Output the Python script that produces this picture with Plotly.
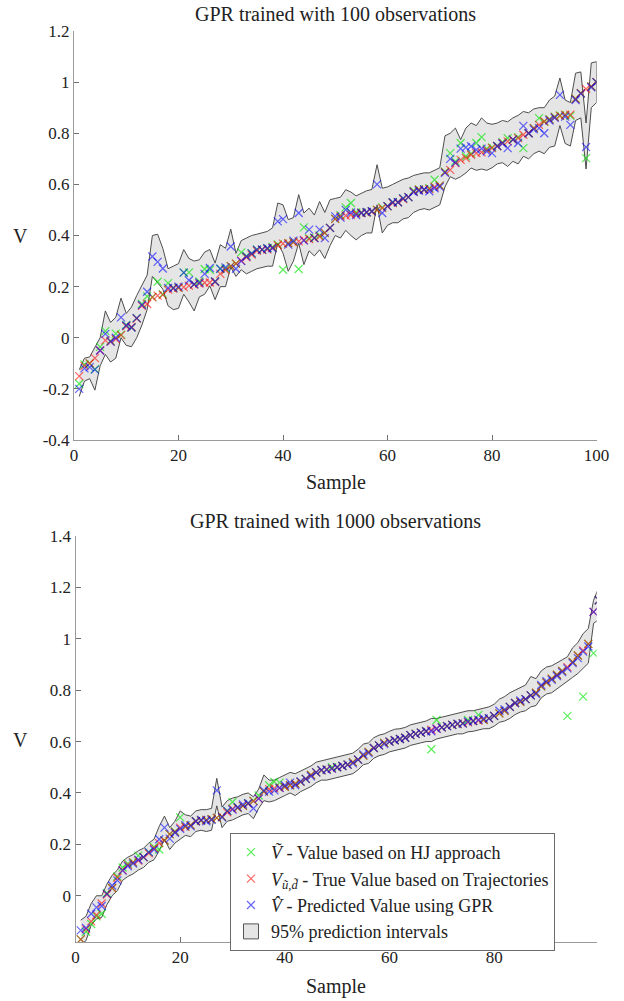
import plotly.graph_objects as go

W, H = 624, 1001

# ---------------- data: top panel (100 training observations) ----------------
samples_top = list(range(1, 101))
true_top = [-0.15, -0.11, -0.10, -0.08, -0.05, -0.01, -0.015, -0.005, 0.01, 0.045,
            0.042, 0.075, 0.125, 0.132, 0.158, 0.165, 0.168, 0.188, 0.192, 0.195,
            0.198, 0.204, 0.208, 0.212, 0.215, 0.216, 0.218, 0.25, 0.265, 0.28,
            0.29, 0.302, 0.315, 0.325, 0.34, 0.344, 0.346, 0.352, 0.362, 0.368,
            0.37, 0.373, 0.377, 0.383, 0.386, 0.39, 0.396, 0.41, 0.43, 0.465,
            0.475, 0.478, 0.481, 0.485, 0.488, 0.49, 0.494, 0.5, 0.507, 0.514,
            0.527, 0.53, 0.542, 0.55, 0.572, 0.579, 0.579, 0.582, 0.59, 0.595,
            0.648, 0.657, 0.683, 0.696, 0.703, 0.716, 0.722, 0.725, 0.735, 0.742,
            0.749, 0.762, 0.768, 0.775, 0.781, 0.794, 0.80, 0.82, 0.833, 0.846,
            0.853, 0.863, 0.868, 0.872, 0.873, 0.934, 0.957, 0.973, 0.983, 1.0]
pred_top = [-0.2, -0.12, -0.115, -0.125, -0.05, 0.015, -0.015, 0.0, 0.08, 0.048,
            0.04, 0.077, 0.128, 0.18, 0.318, 0.297, 0.271, 0.195, 0.195, 0.2,
            0.255, 0.225, 0.21, 0.215, 0.25, 0.273, 0.22, 0.27, 0.275, 0.357,
            0.27, 0.30, 0.318, 0.33, 0.345, 0.345, 0.35, 0.35, 0.455, 0.464,
            0.364, 0.38, 0.488, 0.38, 0.423, 0.39, 0.423, 0.39, 0.43, 0.475,
            0.47, 0.50, 0.49, 0.48, 0.488, 0.492, 0.495, 0.60, 0.488, 0.515,
            0.53, 0.53, 0.545, 0.55, 0.57, 0.575, 0.58, 0.573, 0.585, 0.59,
            0.645, 0.70, 0.685, 0.74, 0.745, 0.749, 0.735, 0.74, 0.729, 0.722,
            0.75, 0.76, 0.742, 0.775, 0.762, 0.829, 0.80, 0.815, 0.82, 0.80,
            0.85, 0.86, 0.95, 0.865, 0.833, 0.93, 0.955, 0.746, 0.98, 1.0]
hj_top = [-0.18, -0.104, -0.10, -0.123, -0.036, 0.026, -0.012, 0.016, 0.012, 0.05,
          0.04, 0.077, 0.132, 0.162, 0.16, 0.219, 0.17, 0.214, 0.195, 0.196,
          0.255, 0.256, 0.21, 0.22, 0.269, 0.266, 0.22, 0.27, 0.27, 0.28,
          0.29, 0.334, 0.32, 0.33, 0.345, 0.345, 0.35, 0.355, 0.365, 0.266,
          0.37, 0.375, 0.269, 0.432, 0.39, 0.392, 0.40, 0.41, 0.43, 0.465,
          0.48, 0.51, 0.527, 0.49, 0.49, 0.49, 0.495, 0.50, 0.51, 0.515,
          0.53, 0.53, 0.545, 0.55, 0.575, 0.58, 0.58, 0.585, 0.618, 0.595,
          0.65, 0.722, 0.69, 0.762, 0.71, 0.72, 0.762, 0.785, 0.74, 0.745,
          0.75, 0.765, 0.781, 0.775, 0.785, 0.742, 0.80, 0.82, 0.859, 0.846,
          0.855, 0.865, 0.87, 0.872, 0.868, 0.935, 0.957, 0.703, 0.983, 1.0]
upper_top = [-0.125, -0.08, -0.075, -0.04, 0.0, 0.105, 0.06, 0.08, 0.155, 0.095,
             0.12, 0.165, 0.205, 0.245, 0.40, 0.405, 0.35, 0.27, 0.28, 0.29,
             0.345, 0.31, 0.30, 0.305, 0.335, 0.345, 0.292, 0.364, 0.35, 0.425,
             0.33, 0.38, 0.39, 0.40, 0.405, 0.41, 0.416, 0.43, 0.527, 0.52,
             0.462, 0.47, 0.56, 0.488, 0.507, 0.48, 0.533, 0.49, 0.54, 0.545,
             0.55, 0.579, 0.57, 0.555, 0.565, 0.575, 0.58, 0.677, 0.585, 0.59,
             0.60, 0.61, 0.62, 0.625, 0.635, 0.64, 0.645, 0.645, 0.655, 0.665,
             0.79, 0.80, 0.82, 0.775, 0.82, 0.84, 0.83, 0.86, 0.84, 0.835,
             0.84, 0.85, 0.845, 0.86, 0.87, 0.885, 0.88, 0.895, 0.90, 0.90,
             0.93, 0.945, 1.016, 0.93, 0.92, 1.035, 1.04, 0.84, 1.075, 1.08]
lower_top = [-0.23, -0.17, -0.16, -0.205, -0.11, -0.065, -0.095, -0.08, 0.0, -0.03,
             -0.035, 0.0, 0.05, 0.11, 0.24, 0.215, 0.19, 0.125, 0.11, 0.115,
             0.17, 0.14, 0.105, 0.16, 0.17, 0.203, 0.149, 0.20, 0.20, 0.276,
             0.24, 0.266, 0.25, 0.26, 0.27, 0.275, 0.28, 0.28, 0.37, 0.331,
             0.26, 0.30, 0.37, 0.286, 0.34, 0.32, 0.344, 0.31, 0.36, 0.40,
             0.39, 0.42, 0.40, 0.383, 0.40, 0.41, 0.41, 0.52, 0.41, 0.44,
             0.45, 0.45, 0.465, 0.47, 0.49, 0.50, 0.505, 0.50, 0.51, 0.52,
             0.59, 0.63, 0.62, 0.63, 0.645, 0.664, 0.655, 0.66, 0.655, 0.665,
             0.68, 0.685, 0.67, 0.69, 0.68, 0.71, 0.70, 0.72, 0.73, 0.72,
             0.745, 0.75, 0.83, 0.76, 0.75, 0.85, 0.86, 0.66, 0.90, 0.92]

# ---------------- data: bottom panel (1000 training observations) ----------------
samples_bot = list(range(1, 101))
true_bot = [-0.17, -0.13, -0.10, -0.075, -0.03, 0.005, 0.03, 0.07, 0.10, 0.12,
            0.13, 0.137, 0.15, 0.165, 0.185, 0.205, 0.215, 0.24, 0.248, 0.265,
            0.268, 0.275, 0.29, 0.293, 0.295, 0.298, 0.303, 0.308, 0.325, 0.338,
            0.342, 0.35, 0.358, 0.368, 0.378, 0.405, 0.415, 0.418, 0.42, 0.424,
            0.43, 0.436, 0.443, 0.455, 0.47, 0.48, 0.488, 0.492, 0.495, 0.50,
            0.505, 0.51, 0.52, 0.53, 0.545, 0.56, 0.575, 0.585, 0.595, 0.60,
            0.605, 0.61, 0.615, 0.625, 0.63, 0.635, 0.64, 0.645, 0.65, 0.655,
            0.66, 0.665, 0.668, 0.672, 0.675, 0.68, 0.682, 0.685, 0.69, 0.70,
            0.71, 0.72, 0.735, 0.75, 0.755, 0.765, 0.78, 0.79, 0.815, 0.83,
            0.845, 0.86, 0.875, 0.89, 0.91, 0.935, 0.955, 0.98, 1.105, 1.15]
pred_bot = [-0.135, -0.125, -0.07, -0.045, -0.04, 0.007, 0.04, 0.06, 0.098, 0.115,
            0.125, 0.14, 0.15, 0.17, 0.18, 0.22, 0.265, 0.222, 0.245, 0.26,
            0.275, 0.27, 0.29, 0.295, 0.29, 0.295, 0.41, 0.305, 0.33, 0.335,
            0.345, 0.355, 0.36, 0.34, 0.378, 0.41, 0.405, 0.41, 0.42, 0.43,
            0.44, 0.43, 0.445, 0.455, 0.465, 0.48, 0.49, 0.49, 0.495, 0.50,
            0.505, 0.51, 0.515, 0.53, 0.55, 0.555, 0.575, 0.585, 0.59, 0.60,
            0.605, 0.61, 0.615, 0.625, 0.63, 0.635, 0.64, 0.64, 0.65, 0.655,
            0.66, 0.665, 0.67, 0.67, 0.678, 0.68, 0.685, 0.69, 0.69, 0.70,
            0.72, 0.725, 0.735, 0.75, 0.76, 0.765, 0.78, 0.785, 0.82, 0.835,
            0.84, 0.855, 0.87, 0.885, 0.905, 0.925, 0.95, 0.97, 1.105, 1.15]
hj_bot = [-0.17, -0.14, -0.11, -0.08, -0.07, 0.01, 0.03, 0.075, 0.11, 0.125,
          0.13, 0.156, 0.15, 0.17, 0.19, 0.18, 0.215, 0.24, 0.25, 0.305,
          0.27, 0.275, 0.29, 0.293, 0.295, 0.298, 0.303, 0.308, 0.33, 0.365,
          0.342, 0.35, 0.36, 0.37, 0.39, 0.405, 0.43, 0.443, 0.44, 0.424,
          0.43, 0.436, 0.443, 0.455, 0.47, 0.48, 0.488, 0.492, 0.50, 0.50,
          0.505, 0.51, 0.52, 0.53, 0.545, 0.56, 0.575, 0.585, 0.595, 0.60,
          0.605, 0.61, 0.615, 0.625, 0.63, 0.635, 0.64, 0.57, 0.684, 0.655,
          0.66, 0.665, 0.668, 0.672, 0.684, 0.68, 0.704, 0.685, 0.69, 0.70,
          0.71, 0.72, 0.735, 0.75, 0.755, 0.765, 0.78, 0.79, 0.815, 0.83,
          0.845, 0.86, 0.875, 0.70, 0.91, 0.935, 0.775, 0.98, 0.944, 1.15]
upper_bot = [-0.095, -0.08, -0.03, 0.0, 0.0, 0.045, 0.08, 0.10, 0.135, 0.15,
             0.16, 0.175, 0.185, 0.205, 0.22, 0.27, 0.31, 0.265, 0.29, 0.33,
             0.315, 0.31, 0.33, 0.335, 0.335, 0.34, 0.457, 0.345, 0.37, 0.38,
             0.385, 0.395, 0.40, 0.385, 0.415, 0.47, 0.45, 0.45, 0.46, 0.47,
             0.48, 0.475, 0.485, 0.495, 0.505, 0.52, 0.525, 0.53, 0.535, 0.54,
             0.545, 0.55, 0.555, 0.57, 0.59, 0.595, 0.615, 0.625, 0.63, 0.64,
             0.648, 0.65, 0.655, 0.665, 0.67, 0.675, 0.68, 0.69, 0.69, 0.695,
             0.70, 0.705, 0.71, 0.717, 0.72, 0.72, 0.725, 0.73, 0.735, 0.745,
             0.765, 0.775, 0.79, 0.80, 0.81, 0.82, 0.853, 0.845, 0.875, 0.89,
             0.895, 0.905, 0.918, 0.93, 0.965, 0.985, 1.02, 1.04, 1.15, 1.20]
lower_bot = [-0.19, -0.175, -0.115, -0.09, -0.085, -0.035, 0.0, 0.02, 0.06, 0.075,
             0.085, 0.10, 0.11, 0.13, 0.14, 0.175, 0.22, 0.18, 0.205, 0.22,
             0.235, 0.23, 0.25, 0.255, 0.25, 0.255, 0.35, 0.265, 0.29, 0.295,
             0.305, 0.315, 0.32, 0.30, 0.34, 0.37, 0.365, 0.37, 0.38, 0.39,
             0.40, 0.39, 0.405, 0.415, 0.425, 0.44, 0.45, 0.45, 0.455, 0.46,
             0.465, 0.47, 0.475, 0.49, 0.51, 0.515, 0.535, 0.545, 0.55, 0.56,
             0.565, 0.57, 0.575, 0.585, 0.59, 0.595, 0.60, 0.60, 0.61, 0.615,
             0.62, 0.625, 0.63, 0.63, 0.638, 0.64, 0.645, 0.65, 0.65, 0.66,
             0.675, 0.68, 0.69, 0.705, 0.715, 0.72, 0.735, 0.74, 0.77, 0.785,
             0.79, 0.805, 0.82, 0.835, 0.85, 0.865, 0.885, 0.905, 1.06, 1.075]

titles = ["GPR trained with 100 observations", "GPR trained with 1000 observations"]
legend_names = ["<i>Ṽ</i> - Value based on HJ approach",
                "<i>V</i><sub><i>ũ,d̃</i></sub> - True Value based on Trajectories",
                "<i>V̂</i> - Predicted Value using GPR",
                "95% prediction intervals"]

FONT = "Liberation Serif"
band_fill = "#e5e5e5"
band_line = "#4d4d4d"
col_hj = "rgba(0,230,0,0.65)"
col_true = "rgba(255,0,0,0.6)"
col_pred = "rgba(0,0,255,0.6)"

fig = go.Figure()


def add_panel(xs, hj, tru, pred, up, lo, xa, ya, show):
    fig.add_trace(go.Scatter(
        x=list(xs) + list(xs)[::-1], y=list(up) + list(lo)[::-1],
        fill="toself", fillcolor=band_fill, mode="lines",
        line=dict(color=band_line, width=1), name=legend_names[3],
        showlegend=False, xaxis=xa, yaxis=ya, hoverinfo="skip"))
    for vals, col, nm, rk in [(hj, col_hj, legend_names[0], 1),
                              (tru, col_true, legend_names[1], 2),
                              (pred, col_pred, legend_names[2], 3)]:
        fig.add_trace(go.Scatter(
            x=xs, y=vals, mode="markers", name=nm, showlegend=show, legendrank=rk,
            marker=dict(symbol="x-thin", size=8, line=dict(color=col, width=1.2)),
            xaxis=xa, yaxis=ya))
    if show:
        # legend swatch for the prediction-interval patch
        fig.add_trace(go.Scatter(
            x=[None], y=[None], mode="markers", name=legend_names[3], legendrank=4,
            marker=dict(symbol="square", size=15, color=band_fill,
                        line=dict(color="#555", width=1)),
            xaxis=xa, yaxis=ya))


add_panel(samples_top, hj_top, true_top, pred_top, upper_top, lower_top, "x", "y", False)
add_panel(samples_bot, hj_bot, true_bot, pred_bot, upper_bot, lower_bot, "x2", "y2", True)

ax_common = dict(showline=True, linecolor="#9a9a9a", linewidth=1, ticks="inside",
                 ticklen=5, tickcolor="#707070", showgrid=False, zeroline=False,
                 mirror=False, automargin=False,
                 tickfont=dict(family=FONT, size=17, color="#222"))

top_y = [-0.4, -0.2, 0, 0.2, 0.4, 0.6, 0.8, 1.0, 1.2]
top_y_txt = ["-0.4", "-0.2", "0", "0.2", "0.4", "0.6", "0.8", "1", "1.2"]
bot_y = [0, 0.2, 0.4, 0.6, 0.8, 1.0, 1.2, 1.4]
bot_y_txt = ["0", "0.2", "0.4", "0.6", "0.8", "1", "1.2", "1.4"]

fig.update_layout(
    width=W, height=H, margin=dict(l=0, r=0, t=0, b=0, autoexpand=False),
    plot_bgcolor="white", paper_bgcolor="white",
    font=dict(family=FONT, color="#222"),
    xaxis=dict(domain=[74 / W, 596.5 / W], range=[0, 100],
               tickvals=[0, 20, 40, 60, 80, 100], anchor="y", **ax_common),
    yaxis=dict(domain=[1 - 440 / H, 1 - 31 / H], range=[-0.4, 1.2], tickvals=top_y,
               ticktext=top_y_txt, anchor="x", **ax_common),
    xaxis2=dict(domain=[75.5 / W, 596.7 / W], range=[0, 99.6],
                tickvals=[0, 20, 40, 60, 80], anchor="y2", **ax_common),
    yaxis2=dict(domain=[1 - 942 / H, 1 - 536 / H], range=[-0.18, 1.4], tickvals=bot_y,
                ticktext=bot_y_txt, anchor="x2", **ax_common),
    showlegend=True,
    legend=dict(x=230 / W, y=1 - 833 / H, xanchor="left", yanchor="top",
                bgcolor="white", bordercolor="#6a6a6a", borderwidth=1,
                font=dict(family=FONT, size=18, color="#222"), tracegroupgap=0,
                itemsizing="trace"),
)

ann = []
for txt, ypx in [(titles[0], 14), (titles[1], 521)]:
    ann.append(dict(text=txt, x=335 / W, y=1 - ypx / H, xref="paper", yref="paper",
                    showarrow=False, xanchor="center", yanchor="middle",
                    font=dict(family=FONT, size=20, color="#222")))
for ypx in [482, 986]:
    ann.append(dict(text="Sample", x=336 / W, y=1 - ypx / H, xref="paper", yref="paper",
                    showarrow=False, xanchor="center", yanchor="middle",
                    font=dict(family=FONT, size=20, color="#222")))
for ypx in [236, 740]:
    ann.append(dict(text="V", x=20 / W, y=1 - ypx / H, xref="paper", yref="paper",
                    showarrow=False, xanchor="center", yanchor="middle",
                    font=dict(family=FONT, size=20, color="#222")))
fig.update_layout(annotations=ann)

fig.write_html("out.html",
               config={"displayModeBar": False},
               post_script="document.body.style.margin='0';"
                           "document.body.style.padding='0';"
                           "document.body.style.overflow='hidden';")
